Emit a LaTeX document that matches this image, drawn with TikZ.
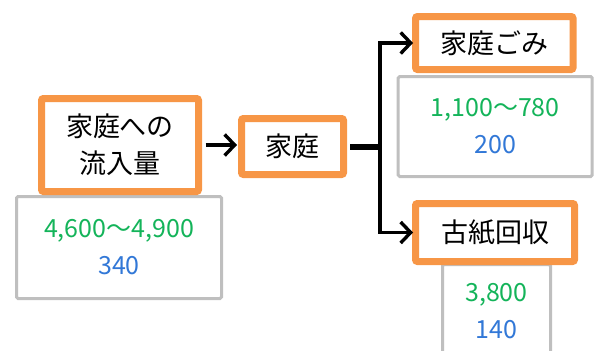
\documentclass[tikz,border=0pt]{standalone}
\usepackage{fontspec}
\setmainfont{Noto Sans CJK JP}
\usetikzlibrary{arrows.meta}
\definecolor{orng}{RGB}{247,150,70}
\definecolor{gry}{RGB}{191,191,191}
\definecolor{grn}{RGB}{20,180,90}
\definecolor{blu}{RGB}{50,120,215}
\tikzset{
  obox/.style={draw=orng, line width=7pt, fill=white, rounded corners=2pt, inner sep=0pt, align=center,
    font=\fontsize{27pt}{37pt}\selectfont},
  gbox/.style={draw=gry, line width=3pt, fill=white, rounded corners=1.5pt, inner sep=0pt, align=center,
    font=\fontsize{25pt}{37pt}\selectfont},
  conn/.style={line width=3.4pt, -{Straight Barb[length=10pt,width=21pt,line width=3.4pt]}},
}
\newcommand{\gv}[1]{\textcolor{grn}{#1}}
\newcommand{\bv}[1]{\textcolor{blu}{#1}}
\begin{document}
\begin{tikzpicture}[x=1pt,y=-1pt]
\useasboundingbox (0,0) rectangle (595,351);
\clip (0,0) rectangle (595,351);
% gray value boxes
\node[gbox, minimum width=205pt, minimum height=102pt] (v1) at (119,247.5) {\gv{4,600〜4,900}\\\bv{340}};
\node[gbox, minimum width=194pt, minimum height=100pt] (v2) at (495.2,126.5) {\gv{1,100〜780}\\\bv{200}};
\node[gbox, minimum width=108pt, minimum height=94pt] (v3) at (496.5,311.5) {\gv{3,800}\\\bv{140}};
% orange boxes
\node[obox, minimum width=157pt, minimum height=93pt] (inflow) at (120,145) {家庭への\\流入量};
\node[obox, minimum width=102pt, minimum height=56pt] (home) at (292.5,146.5) {家庭};
\node[obox, minimum width=157.5pt, minimum height=53pt] (gomi) at (494.3,43) {家庭ごみ};
\node[obox, minimum width=159pt, minimum height=58pt] (koshi) at (495,232.5) {古紙回収};
\coordinate (jx) at (380,146.5);
% connectors
\draw[conn] (inflow.east) ++(3.5,0) coordinate (a1) (a1) -- ([xshift=-1pt]home.west |- a1);
\draw[line width=6pt] ([xshift=3pt]home.east) -- ([xshift=1.7pt]jx);
\draw[conn] (jx) |- ([xshift=1pt]gomi.west);
\draw[conn] (jx) |- ([xshift=1pt]koshi.west);
\end{tikzpicture}
\end{document}
